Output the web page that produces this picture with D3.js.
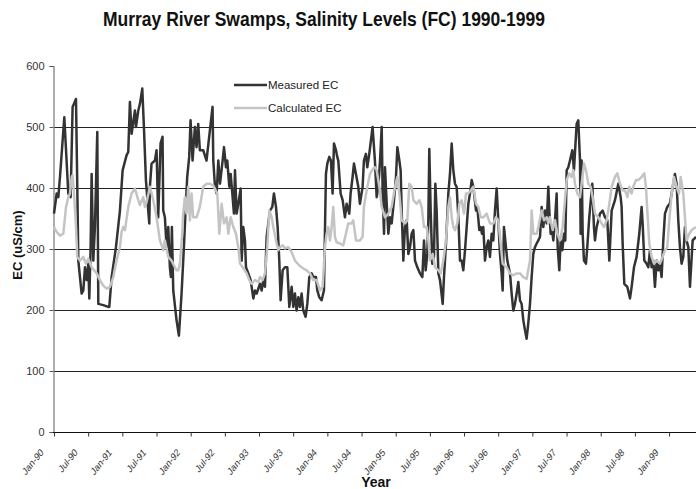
<!DOCTYPE html>
<html>
<head>
<meta charset="utf-8">
<script src="https://cdn.jsdelivr.net/npm/d3@7"></script>
<style>
  html, body { margin: 0; padding: 0; background: #fff; }
  svg { display: block; }
  text { font-family: Arial, "Liberation Sans", sans-serif; }
</style>
</head>
<body>
<div id="chart"></div>
<script>
// ---- Data (months since Jan 1990, EC in uS/cm) ----
const tickLabels = ["Jan-90","Jul-90","Jan-91","Jul-91","Jan-92","Jul-92","Jan-93","Jul-93","Jan-94","Jul-94",
  "Jan-95","Jul-95","Jan-96","Jul-96","Jan-97","Jul-97","Jan-98","Jul-98","Jan-99"];
const tickMonths = [0,6,12,18,24,30,36,42,48,54,60,66,72,78,84,90,96,102,108];
const yTicks = [0,100,200,300,400,500,600];
const gridValues = [100,200,300,400,500];
const monthEnd = 112.73;

const measuredMonth = [0,0.47,0.76,1.05,1.81,2.51,2.92,3.27,3.86,4.09,4.27,4.85,5.15,5.44,5.73,6.02,6.2,6.43,6.61,6.9,7.19,7.6,7.78,8.65,9.53,9.71,10.12,10.88,11.58,12.05,12.75,13.04,13.33,13.63,14.21,14.39,14.8,15.09,15.5,15.79,16.14,16.55,16.73,16.84,17.13,17.72,18.01,18.3,18.71,19.06,19.18,19.47,19.77,20.06,20.35,20.53,20.7,20.94,21.52,21.93,22.4,22.81,23.1,23.39,23.74,23.98,24.33,24.74,25.03,25.32,25.61,26.2,26.78,27.84,
  27.97,28.27,28.56,28.85,29.15,29.61,29.85,30.2,30.43,30.78,31.02,31.31,31.6,31.78,32.07,32.36,32.77,32.95,33.24,33.53,33.71,34.12,34.53,35.0,35.29,35.58,36.17,36.46,36.75,37.04,37.34,37.63,37.92,38.33,38.62,38.98,39.27,39.56,39.79,40.15,40.56,40.97,41.32,41.73,42.02,42.31,42.6,42.9,43.19,43.48,43.77,44.18,44.48,44.83,45.24,45.53,46.0,46.23,46.58,46.99,47.4,47.75,47.99,48.34,48.63,48.92,49.16,49.51,49.74,49.92,50.33,50.68,51.09,51.38,51.85,52.08,52.43,52.67,53.02,53.43,53.72,54.19,54.42,54.77,55.01,55.36,55.94,56.35,56.66,56.95,57.25,57.54,57.71,57.95,58.12,58.42,58.71,59.0,59.29,59.7,60.05,60.29,60.64,60.87,61.05,61.34,61.63,61.93,62.22,62.51,62.8,63.1,63.39,63.8,64.27,64.68,64.97,65.26,65.55,65.73,65.9,66.14,66.43,66.72,66.96,67.19,67.49,67.78,68.25,68.48,68.83,69.24,69.53,69.83,70.12,70.41,70.7,71.0,71.29,71.58,71.87,72.17,72.46,72.75,73.04,73.34,73.63,74.1,74.33,74.68,74.92,75.15,75.38,75.68,75.97,76.26,76.55,76.85,77.14,77.43,77.73,78.02,78.31,78.6,78.78,79.01,79.36,79.6,80.07,80.36,80.65,80.94,81.24,81.53,81.82,82.11,82.41,82.7,82.99,83.28,83.58,83.87,84.16,84.45,84.75,85.04,85.34,85.63,85.92,86.21,86.51,86.8,86.97,87.21,87.38,87.68,87.97,88.26,88.44,88.73,88.96,89.26,89.55,89.78,90.02,90.31,90.6,91.01,91.3,91.77,92.06,92.36,92.47,92.65,92.83,93.06,93.41,93.64,93.99,94.52,94.81,94.99,95.28,95.58,95.87,96.34,96.75,97.16,97.51,97.92,98.5,99.09,99.5,99.67,99.85,100.14,100.67,101.14,101.43,101.84,102.3,102.77,103.18,103.36,103.65,104.06,104.35,104.65,104.94,105.23,105.52,105.82,106.11,106.4,106.69,106.99,107.28,107.69,108.16,108.45,109.03,109.33,109.62,109.91,110.2,110.5,110.79,111.08,111.38,111.67,112.14,112.73];
const measuredEC = [358,391,385,418,516,391,385,533,546,402,281,227,232,270,249,276,219,303,423,281,336,492,210,208,205,205,254,303,363,429,454,459,541,489,527,500,527,538,563,500,413,363,342,402,440,445,462,352,473,484,363,352,303,336,270,254,336,232,183,158,227,303,363,418,451,511,445,500,467,505,462,462,445,533,
  445,402,391,445,407,445,467,434,445,402,423,391,358,429,358,374,399,281,336,314,270,260,249,219,232,227,243,232,249,238,320,342,363,369,391,369,336,281,216,265,270,270,205,238,205,227,199,221,205,227,199,189,210,254,260,254,254,232,221,216,232,423,440,451,445,391,473,462,451,445,391,380,352,374,358,391,418,440,423,402,374,402,445,456,434,456,500,445,385,402,445,500,391,325,434,374,325,352,342,380,418,467,445,429,363,281,336,347,292,303,325,331,281,270,260,254,314,265,292,347,464,363,276,287,407,363,260,249,210,254,309,391,423,473,429,407,402,352,281,281,265,298,336,374,391,413,402,363,369,331,336,325,336,281,303,314,287,325,314,363,399,347,292,260,232,336,303,281,260,227,199,210,227,246,216,210,183,167,153,178,210,254,292,303,309,314,320,369,336,363,342,402,363,325,336,314,347,391,303,265,314,298,325,314,429,434,445,462,429,505,511,445,325,445,325,281,276,303,352,407,336,314,336,347,358,363,352,347,281,363,380,407,385,369,309,243,238,219,238,270,287,325,369,342,281,276,270,298,270,281,238,281,265,276,254,314,358,369,375,391,423,407,347,303,276,287,336,314,303,238,314,320];

const calcMonth = [0,0.47,1.05,1.64,2.11,2.51,2.81,3.1,3.27,3.51,3.86,4.09,4.56,5.15,5.61,6.02,6.61,7.49,8.07,8.65,9.24,9.82,10.41,10.99,11.58,11.87,12.16,12.46,13.04,13.63,14.21,14.8,15.09,15.67,15.96,16.26,16.84,17.43,18.01,18.6,19.18,19.47,20.06,20.64,21.23,21.52,21.81,22.11,22.51,22.69,22.98,23.27,23.57,23.86,24.15,24.44,25.03,25.61,26.2,26.78,27.37,27.97,28.68,29.03,29.44,29.85,30.32,30.61,31.02,31.49,31.95,32.36,32.66,33.12,33.83,34.29,34.7,35.29,35.87,36.17,36.63,37.04,37.45,37.81,38.22,38.51,39.09,39.39,39.68,40.15,40.56,41.14,41.73,42.31,43.07,43.77,44.36,44.94,45.53,46.11,46.7,47.17,47.58,47.87,48.16,48.46,48.75,49.04,49.33,49.63,50.21,50.79,51.26,51.67,52.26,52.55,53.02,53.72,54.19,54.42,54.89,55.48,56.06,56.37,56.66,57.13,57.54,58.12,58.71,59.29,59.88,60.29,60.64,61.05,61.63,62.04,62.39,62.8,63.1,63.68,64.15,64.56,64.97,65.44,65.73,66.02,66.49,66.9,67.49,67.9,68.36,68.83,69.24,69.53,69.83,70.12,70.41,70.82,71.17,71.58,71.99,72.34,72.75,73.16,73.63,74.1,74.51,74.92,75.38,75.97,76.55,77.14,77.61,78.02,78.31,78.78,79.48,80.07,80.65,81.24,81.82,82.41,82.99,83.58,83.87,84.17,84.75,85.04,85.63,86.04,86.51,86.8,87.09,87.56,87.97,88.38,88.85,89.31,89.72,90.02,90.48,90.89,91.19,91.48,91.89,92.36,92.65,93.06,93.41,93.82,94.23,94.58,94.99,95.58,96.16,96.57,97.04,97.51,97.92,98.5,98.91,99.38,99.85,100.26,100.67,101.02,101.43,101.72,102.19,102.6,103.18,103.65,103.94,104.18,104.53,104.94,105.35,105.82,106.4,106.87,107.28,107.69,108.04,108.45,108.86,109.33,109.74,110.03,110.5,110.79,111.08,111.55,111.96,112.73];
const calcEC = [336,328,322,325,369,385,391,418,421,391,336,287,281,287,276,284,270,260,249,240,235,238,254,281,303,328,336,331,369,391,399,380,372,385,369,377,402,380,352,314,298,314,287,281,270,265,265,276,325,358,385,358,402,347,391,352,352,369,402,407,407,404,391,325,374,342,352,325,352,336,325,303,276,270,260,249,243,249,246,254,249,260,303,363,352,336,309,298,303,306,301,303,295,281,273,268,265,260,249,249,232,238,303,325,336,314,336,369,320,311,309,306,325,342,342,347,314,314,320,369,396,423,432,434,429,402,369,352,358,369,402,418,391,347,342,347,407,402,380,374,380,369,336,336,314,281,292,270,265,260,281,314,369,385,352,336,331,342,374,380,358,391,391,396,402,374,369,352,352,358,342,342,352,347,320,276,270,260,257,260,260,254,251,281,363,325,325,336,363,347,352,342,352,331,347,325,314,336,380,413,424,418,429,407,391,385,407,440,429,407,402,385,358,352,342,336,347,374,402,418,424,407,396,396,385,402,391,402,413,413,418,424,402,363,309,287,276,281,276,287,298,303,347,391,418,402,391,418,391,352,314,325,331,336];

// ---- Layout ----
const W = 696, H = 489;
const svg = d3.select("#chart").append("svg").attr("width", W).attr("height", H);

const x = d3.scaleLinear().domain([0, monthEnd]).range([54, 696]);
const y = d3.scaleLinear().domain([0, 600]).range([432, 66]);

// Title
svg.append("text")
  .attr("x", 103).attr("y", 26)
  .attr("font-size", 20).attr("font-weight", "bold").attr("fill", "#111")
  .attr("textLength", 442).attr("lengthAdjust", "spacingAndGlyphs")
  .text("Murray River Swamps, Salinity Levels (FC) 1990-1999");

// Gridlines
svg.append("g").selectAll("line").data(gridValues).join("line")
  .attr("x1", 54).attr("x2", 696)
  .attr("y1", d => Math.round(y(d)) + 0.5).attr("y2", d => Math.round(y(d)) + 0.5)
  .attr("stroke", "#222").attr("stroke-width", 1);

// Y axis
const yAxis = d3.axisLeft(y).tickValues(yTicks).tickSize(4).tickPadding(5).tickFormat(d3.format("d"));
const gy = svg.append("g").attr("transform", "translate(53.5,0)").call(yAxis);
gy.select(".domain").attr("stroke", "#777").attr("stroke-width", 1.2);
gy.selectAll(".tick line").attr("stroke", "#555");
gy.selectAll(".tick text").attr("font-size", 11).attr("fill", "#333")
  .attr("font-family", "Arial, 'Liberation Sans', sans-serif");

// X axis
const xAxis = d3.axisBottom(x).tickValues(tickMonths).tickSize(4).tickFormat("");
const gx = svg.append("g").attr("transform", "translate(0,432.5)").call(xAxis);
gx.select(".domain").attr("stroke", "#111").attr("stroke-width", 1.2).attr("d", "M53,0H696");
gx.selectAll(".tick line").attr("stroke", "#333");

// X tick labels (rotated)
svg.append("g").selectAll("text").data(tickMonths).join("text")
  .attr("transform", d => `translate(${x(d) - 10},453) scale(0.8,1) rotate(-45)`)
  .attr("text-anchor", "end")
  .attr("font-size", 10.5).attr("fill", "#333")
  .text((d, i) => tickLabels[i]);

// Axis titles
svg.append("text")
  .attr("transform", "translate(22,245) rotate(-90)")
  .attr("text-anchor", "middle").attr("font-size", 13).attr("font-weight", "bold").attr("fill", "#111")
  .text("EC (uS/cm)");
svg.append("text")
  .attr("x", 376).attr("y", 487).attr("text-anchor", "middle")
  .attr("font-size", 14).attr("font-weight", "bold").attr("fill", "#111")
  .text("Year");

// Lines
svg.append("clipPath").attr("id", "plotclip").append("rect")
  .attr("x", 40).attr("y", 50).attr("width", 656).attr("height", 400);

const line = d3.line().x(d => x(d[0])).y(d => y(d[1]));
const measured = measuredMonth.map((m, i) => [m, measuredEC[i]]);
const calculated = calcMonth.map((m, i) => [m, calcEC[i]]);

svg.append("path").datum(measured)
  .attr("d", line).attr("fill", "none").attr("stroke", "#333").attr("stroke-width", 2.5)
  .attr("stroke-linejoin", "round").attr("clip-path", "url(#plotclip)");
svg.append("path").datum(calculated)
  .attr("d", line).attr("fill", "none").attr("stroke", "#c4c4c4").attr("stroke-width", 2.5)
  .attr("stroke-linejoin", "round").attr("clip-path", "url(#plotclip)");

// Legend
const legend = [
  { name: "Measured EC", color: "#333", y: 85 },
  { name: "Calculated EC", color: "#c4c4c4", y: 108 }
];
const lg = svg.append("g");
lg.selectAll("line").data(legend).join("line")
  .attr("x1", 234).attr("x2", 267).attr("y1", d => d.y).attr("y2", d => d.y)
  .attr("stroke", d => d.color).attr("stroke-width", 2.6);
lg.selectAll("text").data(legend).join("text")
  .attr("x", 268).attr("y", d => d.y + 4)
  .attr("font-size", 11.5).attr("fill", "#222")
  .text(d => d.name);
</script>
</body>
</html>
